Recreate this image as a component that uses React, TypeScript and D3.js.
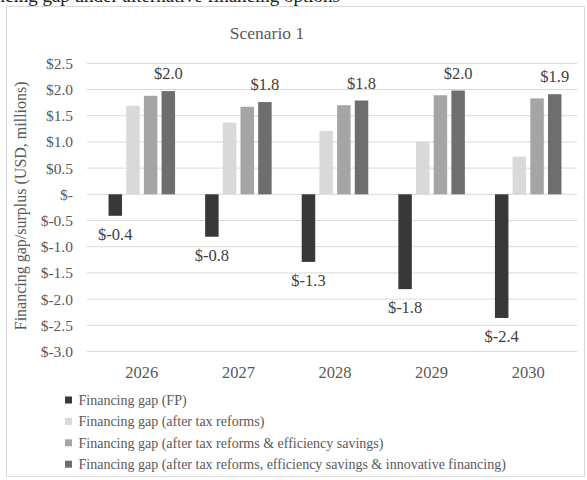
import React from "react";
import * as d3 from "d3";

const years = ["2026", "2027", "2028", "2029", "2030"];
const seriesNames = [
  "Financing gap (FP)",
  "Financing gap (after tax reforms)",
  "Financing gap (after tax reforms & efficiency savings)",
  "Financing gap (after tax reforms, efficiency savings & innovative financing)",
];
const gapFP = [-0.41, -0.81, -1.29, -1.81, -2.36];
const gapTax = [1.69, 1.37, 1.21, 1.0, 0.72];
const gapTaxEff = [1.88, 1.67, 1.7, 1.89, 1.83];
const gapTaxEffInnov = [1.97, 1.76, 1.79, 1.98, 1.91];
const yTicks = [2.5, 2.0, 1.5, 1.0, 0.5, 0, -0.5, -1.0, -1.5, -2.0, -2.5, -3.0];
const seriesColors = ["#383838", "#d9d9d9", "#a5a5a5", "#6e6e6e"];

const W = 587;
const H = 480;
const FONT = "'Liberation Serif', 'Times New Roman', serif";
const TEXT = "#595959";

const locale = d3.formatLocale({
  decimal: ".",
  thousands: ",",
  grouping: [3],
  currency: ["$", ""],
  minus: "-",
});
const f1 = locale.format(".1f");
const fmtTick = (v: number) => (v === 0 ? "$-" : `$${f1(v)}`);
const fmtLabel = (v: number) => `$${f1(v)}`;

export default function App() {
  const values = [gapFP, gapTax, gapTaxEff, gapTaxEffInnov];
  const y = d3.scaleLinear().domain([-3, 2.5]).range([351.5, 63.3]);
  const x = d3.scaleBand<string>().domain(years).range([93.5, 576.5]);
  const xs = d3
    .scaleBand<string>()
    .domain(seriesNames)
    .range([0, x.bandwidth()])
    .paddingInner(0.237)
    .paddingOuter(0.85);
  const gridX0 = 87;
  const gridX1 = 577;

  return (
    <svg
      width={W}
      height={H}
      style={{ position: "absolute", left: 0, top: 0, background: "#fff" }}
      fontFamily={FONT}
    >
      <rect x={0} y={0} width={W} height={H} fill="#fff" />
      <text x={340} y={1.5} textAnchor="end" fontSize={19} fill="#222">
        Figure 4: Financing gap under alternative financing options
      </text>
      <rect x={6.5} y={6.5} width={578} height={470} fill="#fff" stroke="#d9d9d9" />

      <text x={267} y={39} textAnchor="middle" fontSize={17.5} fill={TEXT}>
        Scenario 1
      </text>

      {/* gridlines and y-axis tick labels */}
      {yTicks.map((t) => (
        <g key={t}>
          <line x1={gridX0} x2={gridX1} y1={y(t)} y2={y(t)} stroke="#d9d9d9" strokeWidth={1} />
          <text x={73} y={y(t)} dy="0.35em" textAnchor="end" fontSize={15.5} fill={TEXT}>
            {fmtTick(t)}
          </text>
        </g>
      ))}

      <text
        transform={`translate(20,${y(-0.22)}) rotate(-90)`}
        textAnchor="middle"
        dy="0.35em"
        fontSize={16}
        fill={TEXT}
      >
        Financing gap/surplus (USD, millions)
      </text>

      {/* bars */}
      {years.map((yr, i) => (
        <g key={yr} transform={`translate(${x(yr)},0)`}>
          {seriesNames.map((s, k) => {
            const v = values[k][i];
            const y0 = y(Math.max(0, v));
            const y1 = y(Math.min(0, v));
            return (
              <rect
                key={s}
                x={xs(s)}
                y={y0}
                width={xs.bandwidth()}
                height={y1 - y0}
                fill={seriesColors[k]}
              />
            );
          })}
          <text
            x={(xs(seriesNames[0]) as number) + xs.bandwidth() / 2}
            y={y(gapFP[i]) + 18}
            dy="0.35em"
            textAnchor="middle"
            fontSize={16.5}
            fill="#404040"
          >
            {fmtLabel(gapFP[i])}
          </text>
          <text
            x={(xs(seriesNames[3]) as number) + xs.bandwidth() / 2}
            y={y(gapTaxEffInnov[i]) - 17.5}
            dy="0.35em"
            textAnchor="middle"
            fontSize={16.5}
            fill="#404040"
          >
            {fmtLabel(gapTaxEffInnov[i])}
          </text>
          <text
            x={x.bandwidth() / 2}
            y={372}
            dy="0.35em"
            textAnchor="middle"
            fontSize={16.5}
            fill={TEXT}
          >
            {yr}
          </text>
        </g>
      ))}

      {/* legend */}
      {seriesNames.map((s, k) => (
        <g key={s} transform={`translate(65,${400 + k * 21.4})`}>
          <rect x={0} y={-3.5} width={7} height={7} fill={seriesColors[k]} />
          <text x={13.5} y={0} dy="0.35em" fontSize={14} fill={TEXT}>
            {s}
          </text>
        </g>
      ))}
    </svg>
  );
}
